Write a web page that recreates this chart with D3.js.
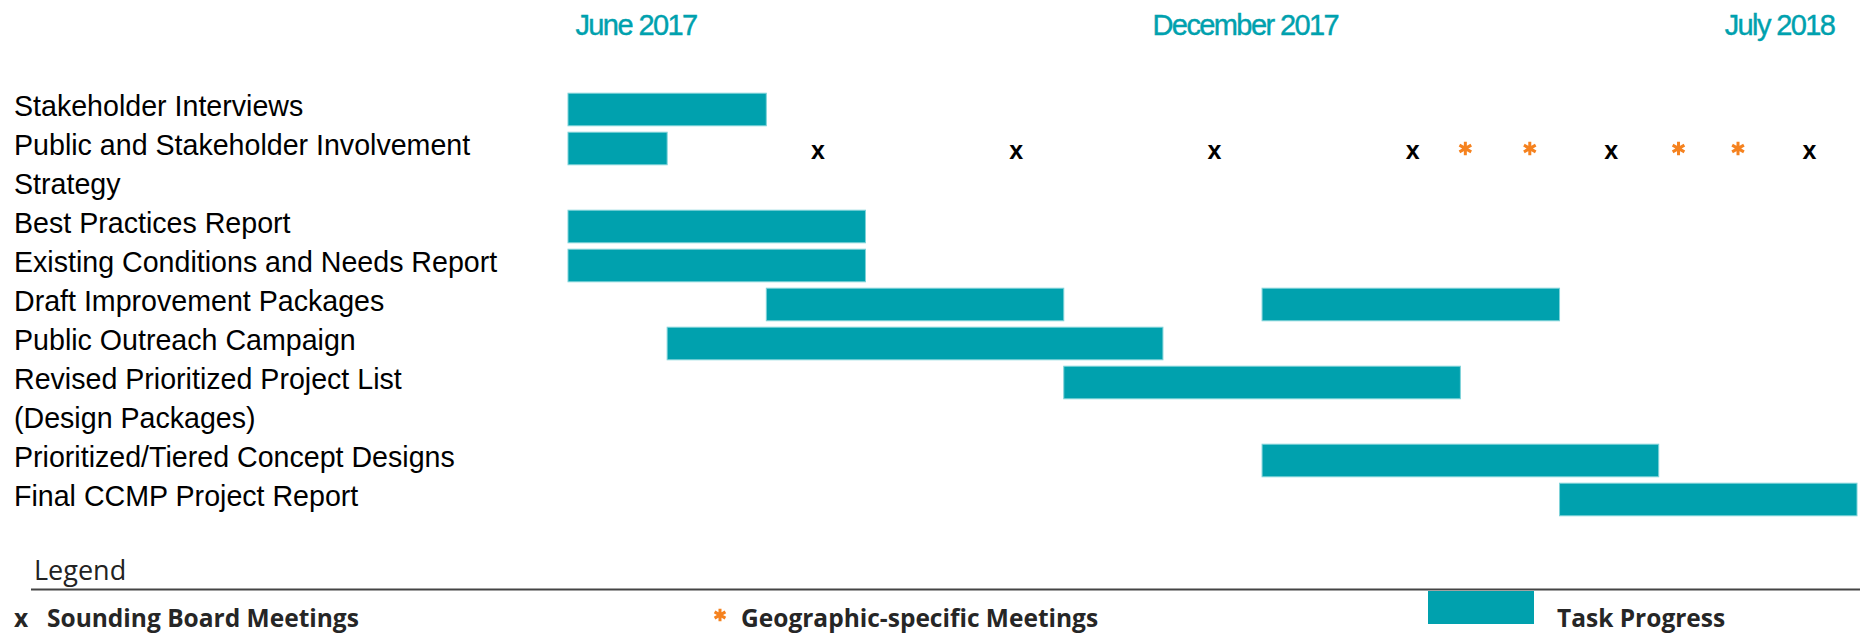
<!DOCTYPE html>
<html>
<head>
<meta charset="utf-8">
<script src="https://cdn.jsdelivr.net/npm/d3@7"></script>
<style>
  body { margin: 0; background: #ffffff; }
  svg { display: block; }
</style>
</head>
<body>
<svg id="chart" width="1860" height="635"></svg>
<script>
// ---------------- DATA ----------------
const tasks = [
  "Stakeholder Interviews",
  "Public and Stakeholder Involvement Strategy",
  "Best Practices Report",
  "Existing Conditions and Needs Report",
  "Draft Improvement Packages",
  "Public Outreach Campaign",
  "Revised Prioritized Project List (Design Packages)",
  "Prioritized/Tiered Concept Designs",
  "Final CCMP Project Report"
];
const taskLabelLines = [
  ["Stakeholder Interviews"],
  ["Public and Stakeholder Involvement", "Strategy"],
  ["Best Practices Report"],
  ["Existing Conditions and Needs Report"],
  ["Draft Improvement Packages"],
  ["Public Outreach Campaign"],
  ["Revised Prioritized Project List", "(Design Packages)"],
  ["Prioritized/Tiered Concept Designs"],
  ["Final CCMP Project Report"]
];
// task bars (in periods from the start of June 2017)
const barTask  = [0, 1, 2, 3, 4, 4, 5, 6, 7, 8];
const barStart = [0, 0, 0, 0, 2, 7, 1, 5, 7, 10];
const barEnd   = [2, 1, 3, 3, 5, 10, 6, 9, 11, 13];
const totalPeriods = 13;

// meetings (placed on the "Public and Stakeholder Involvement" row)
const meetingTask = 1;
const soundingBoardMeetings = [2.5, 4.5, 6.5, 8.5, 10.5, 12.5];
const geographicMeetings = [9.05, 9.7, 11.2, 11.8];

// timeline labels
const tickLabels = ["June 2017", "December 2017", "July 2018"];
const tickPositions = [0.07, 5.89, 11.66];

// legend
const legendTitle = "Legend";
const legendLabels = ["Sounding Board Meetings", "Geographic-specific Meetings", "Task Progress"];

// ---------------- STYLE ----------------
const TEAL = "#00a1ae";
const ORANGE = "#f5821f";

const svg = d3.select("#chart");

// rows (one per text line)
const rowOfTask = [];
let nLines = 0;
taskLabelLines.forEach((lines, i) => { rowOfTask[i] = nLines; nLines += lines.length; });
const lineItems = [];
taskLabelLines.forEach((lines, i) => lines.forEach((t, j) => lineItems.push({ text: t, row: rowOfTask[i] + j })));

const x = d3.scaleLinear().domain([0, totalPeriods]).range([568, 1857]);
const y = d3.scaleBand().domain(d3.range(nLines)).range([90, 519]).padding(0);
const barH = y.bandwidth() * 0.835;
const rowCenter = r => y(r) + y.bandwidth() / 2;

// timeline axis
const axis = d3.axisTop(x)
  .tickValues(tickPositions)
  .tickFormat((d, i) => tickLabels[i])
  .tickSize(0)
  .tickPadding(0);
const gAxis = svg.append("g").attr("transform", "translate(0,34.5)").call(axis);
gAxis.select(".domain").remove();
gAxis.selectAll("text")
  .attr("text-anchor", "start")
  .attr("fill", TEAL)
  .attr("stroke", TEAL)
  .attr("stroke-width", 0.4)
  .attr("font-family", "'Liberation Sans', Arial, sans-serif")
  .attr("font-size", 29)
  .style("letter-spacing", "-1.6px");

// task labels
svg.append("g").selectAll("text").data(lineItems).join("text")
  .attr("x", 14)
  .attr("y", d => rowCenter(d.row) + 6)
  .attr("font-family", "'Liberation Sans', Arial, sans-serif")
  .attr("font-size", 28.6)
  .attr("fill", "#000")
  .text(d => d.text);

// bars
svg.append("g").selectAll("rect").data(barTask.map((t, i) => ({ t, s: barStart[i], e: barEnd[i] }))).join("rect")
  .attr("x", d => x(d.s))
  .attr("y", d => rowCenter(rowOfTask[d.t]) - barH / 2)
  .attr("width", d => x(d.e) - x(d.s))
  .attr("height", barH)
  .attr("fill", TEAL)
  .attr("stroke", "#7fd3d9")
  .attr("stroke-width", 1);

// sounding board meetings (x)
svg.append("g").selectAll("text").data(soundingBoardMeetings).join("text")
  .attr("x", d => x(d) + 2)
  .attr("y", rowCenter(rowOfTask[meetingTask]) + 10)
  .attr("text-anchor", "middle")
  .attr("font-family", "'Liberation Sans', Arial, sans-serif")
  .attr("font-weight", "bold")
  .attr("font-size", 25)
  .attr("fill", "#000")
  .text("x");

// geographic meetings (*)
const asteriskType = d3.symbolAsterisk || d3.symbolCross;
const ast = d3.symbol().type(asteriskType).size(130);
svg.append("g").selectAll("path").data(geographicMeetings).join("path")
  .attr("transform", d => `translate(${x(d)},${rowCenter(rowOfTask[meetingTask])})`)
  .attr("d", ast)
  .attr("fill", "none")
  .attr("stroke", ORANGE)
  .attr("stroke-width", 3);

// legend
svg.append("text")
  .attr("x", 34).attr("y", 579.5)
  .attr("font-family", "'Open Sans', sans-serif")
  .attr("font-size", 27)
  .attr("fill", "#222")
  .text(legendTitle);
svg.append("line")
  .attr("x1", 31).attr("x2", 1860)
  .attr("y1", 589.5).attr("y2", 589.5)
  .attr("stroke", "#444").attr("stroke-width", 2);

const legFont = "'Open Sans', sans-serif";
svg.append("text")
  .attr("x", 14).attr("y", 627)
  .attr("font-family", legFont).attr("font-weight", "bold").attr("font-size", 24.5)
  .attr("fill", "#262626").text("x");
svg.append("text")
  .attr("x", 47).attr("y", 627)
  .attr("font-family", legFont).attr("font-weight", "bold").attr("font-size", 24.5)
  .attr("fill", "#262626").text(legendLabels[0]);

svg.append("path")
  .attr("transform", "translate(720,615)")
  .attr("d", d3.symbol().type(asteriskType).size(110))
  .attr("fill", "none").attr("stroke", ORANGE).attr("stroke-width", 3);
svg.append("text")
  .attr("x", 741).attr("y", 627)
  .attr("font-family", legFont).attr("font-weight", "bold").attr("font-size", 24.5)
  .attr("fill", "#262626").text(legendLabels[1]);

svg.append("rect")
  .attr("x", 1428).attr("y", 591).attr("width", 106).attr("height", 33)
  .attr("fill", TEAL);
svg.append("text")
  .attr("x", 1557).attr("y", 627)
  .attr("font-family", legFont).attr("font-weight", "bold").attr("font-size", 24.5)
  .attr("fill", "#262626").text(legendLabels[2]);
</script>
</body>
</html>
